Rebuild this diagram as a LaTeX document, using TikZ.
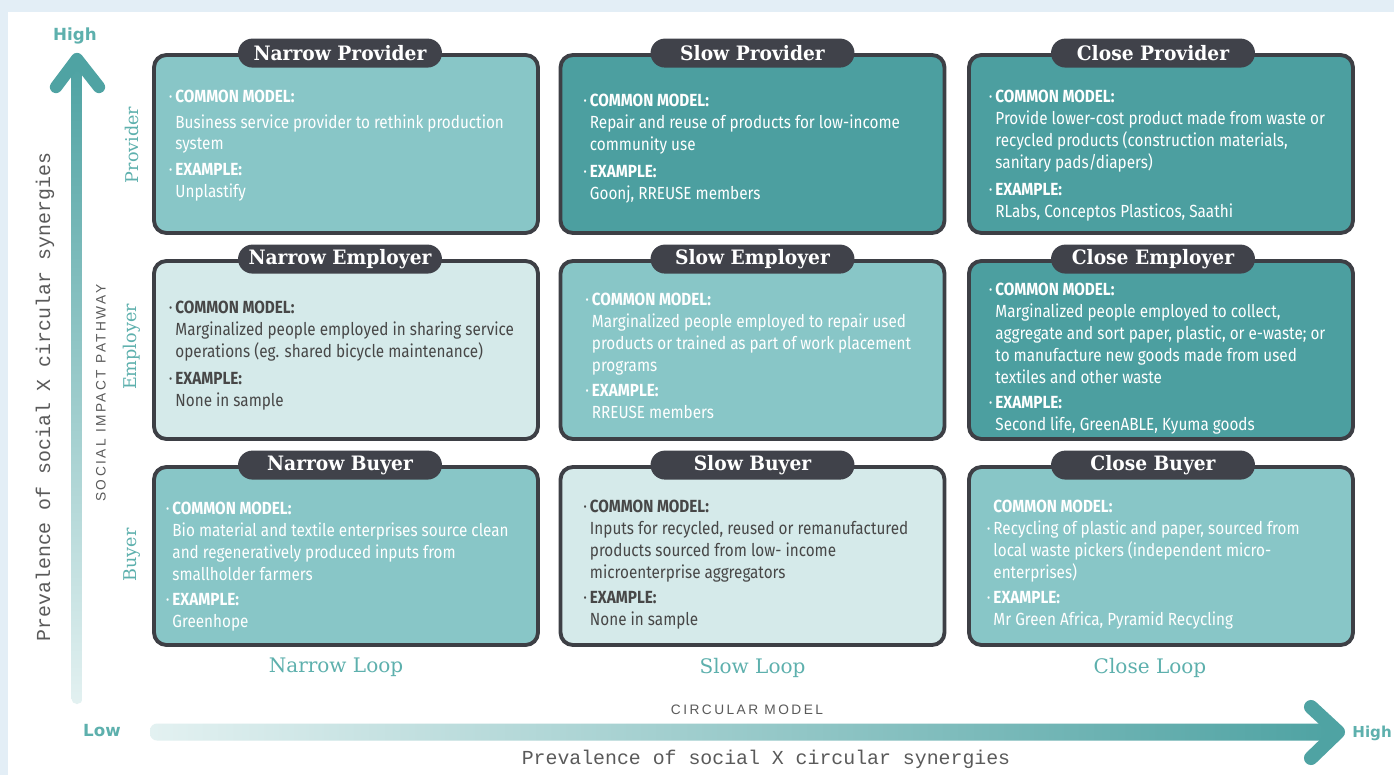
\documentclass[tikz,border=0pt]{standalone}
\usepackage{fontspec}
\setmainfont{DejaVu Serif}
\newfontfamily\slabfont[FakeStretch=0.94]{DejaVu Serif}
\newfontfamily\condfont[FakeStretch=0.87]{Fira Sans}
\newfontfamily\axisfont{Liberation Mono}
\newfontfamily\capsfont[LetterSpace=18]{Liberation Sans}
\newfontfamily\tagfont{DejaVu Sans}
\usetikzlibrary{positioning,calc}

\definecolor{frameblue}{HTML}{E3EEF6}
\definecolor{boxline}{HTML}{3D3F45}
\definecolor{pillfill}{HTML}{40424A}
\definecolor{tealdark}{HTML}{4C9FA0}
\definecolor{teallight}{HTML}{88C6C7}
\definecolor{tealpale}{HTML}{D5EAEA}
\definecolor{inkgray}{HTML}{474747}
\definecolor{loopteal}{HTML}{5DB0AD}
\definecolor{axisteal}{HTML}{4FA3A3}
\definecolor{axispale}{HTML}{E3F1F1}
\definecolor{axisgray}{HTML}{5A5A5A}

\newcommand{\bul}{\llap{\textperiodcentered\,}}
\newcommand{\cellhead}[1]{\bul\textbf{#1}}

\begin{document}
\begin{tikzpicture}[x=0.02cm, y=-0.02cm,
  cellbox/.style={draw=boxline, line width=2.2pt, rounded corners=7pt,
    minimum width=7.68cm, minimum height=3.56cm, inner sep=0pt},
  pill/.style={fill=pillfill, text=white, rounded corners=0.29cm,
    minimum width=4.08cm, minimum height=0.58cm, inner sep=0pt,
    font=\slabfont\bfseries\fontsize{11.3}{13}\selectfont},
  body/.style={align=left, inner sep=0pt, text=white,
    font=\condfont\fontsize{10}{12.4}\selectfont},
  paletext/.style={text=inkgray},
  looplabel/.style={text=loopteal, font=\fontsize{11.4}{13}\selectfont},
  rowlabel/.style={text=loopteal, rotate=90, font=\fontsize{10}{12}\selectfont},
  tag/.style={text=loopteal, font=\tagfont\bfseries\fontsize{9.5}{11}\selectfont},
  axistitle/.style={text=axisgray, font=\axisfont\fontsize{11.3}{13}\selectfont},
  axiscaps/.style={text=axisgray, font=\capsfont\fontsize{7.8}{9}\selectfont}]
\useasboundingbox (0,0) rectangle (1394,775);
\fill[frameblue] (0,0) rectangle (1394,775);
\fill[white] (8,12) rectangle (1394,775);

%%%%%%%%%%%%%%%%%%%%%%%%%%%%%%%%%%%%%%%%
% the nine cells
\node[cellbox, fill=teallight] (np) at (346,144) {};
\node[cellbox, fill=tealdark]  (sp) at (752.5,144) {};
\node[cellbox, fill=tealdark]  (cp) at (1161,144) {};
\node[cellbox, fill=tealpale]  (ne) at (346,350) {};
\node[cellbox, fill=teallight] (se) at (752.5,350) {};
\node[cellbox, fill=tealdark]  (ce) at (1161,350) {};
\node[cellbox, fill=teallight] (nb) at (346,556) {};
\node[cellbox, fill=tealpale]  (sb) at (752.5,556) {};
\node[cellbox, fill=teallight] (cb) at (1161,556) {};

\node[pill, xshift=-0.12cm] (np-t) at (np.north) {Narrow Provider};
\node[pill] (sp-t) at (sp.north) {Slow Provider};
\node[pill, xshift=-0.16cm] (cp-t) at (cp.north) {Close Provider};
\node[pill, xshift=-0.12cm] (ne-t) at (ne.north) {Narrow Employer};
\node[pill] (se-t) at (se.north) {Slow Employer};
\node[pill, xshift=-0.16cm] (ce-t) at (ce.north) {Close Employer};
\node[pill, xshift=-0.12cm] (nb-t) at (nb.north) {Narrow Buyer};
\node[pill] (sb-t) at (sb.north) {Slow Buyer};
\node[pill, xshift=-0.16cm] (cb-t) at (cb.north) {Close Buyer};

\node[body, below right=0.74cm and 0.46cm of np.north west] (np-txt)
  {\cellhead{COMMON MODEL:}\\[2pt]
   Business service provider to rethink production\\
   system\\[2pt]
   \cellhead{EXAMPLE:}\\
   Unplastify};
\node[body, below right=0.82cm and 0.62cm of sp.north west] (sp-txt)
  {\cellhead{COMMON MODEL:}\\
   Repair and reuse of products for low-income\\
   community use\\[3pt]
   \cellhead{EXAMPLE:}\\
   Goonj, RREUSE members};
\node[body, below right=0.74cm and 0.56cm of cp.north west] (cp-txt)
  {\cellhead{COMMON MODEL:}\\
   Provide lower-cost product made from waste or\\
   recycled products (construction materials,\\
   sanitary pads/diapers)\\[3pt]
   \cellhead{EXAMPLE:}\\
   RLabs, Conceptos Plasticos, Saathi};
\node[body, paletext, below right=0.84cm and 0.46cm of ne.north west] (ne-txt)
  {\cellhead{COMMON MODEL:}\\
   Marginalized people employed in sharing service\\
   operations (eg. shared bicycle maintenance)\\[3pt]
   \cellhead{EXAMPLE:}\\
   None in sample};
\node[body, below right=0.68cm and 0.66cm of se.north west] (se-txt)
  {\cellhead{COMMON MODEL:}\\
   Marginalized people employed to repair used\\
   products or trained as part of work placement\\
   programs\\[2pt]
   \cellhead{EXAMPLE:}\\
   RREUSE members};
\node[body, below right=0.48cm and 0.56cm of ce.north west] (ce-txt)
  {\cellhead{COMMON MODEL:}\\
   Marginalized people employed to collect,\\
   aggregate and sort paper, plastic, or e-waste; or\\
   to manufacture new goods made from used\\
   textiles and other waste\\[2pt]
   \cellhead{EXAMPLE:}\\
   Second life, GreenABLE, Kyuma goods};
\node[body, below right=0.74cm and 0.40cm of nb.north west] (nb-txt)
  {\cellhead{COMMON MODEL:}\\
   Bio material and textile enterprises source clean\\
   and regeneratively produced inputs from\\
   smallholder farmers\\[2pt]
   \cellhead{EXAMPLE:}\\
   Greenhope};
\node[body, paletext, below right=0.70cm and 0.62cm of sb.north west] (sb-txt)
  {\cellhead{COMMON MODEL:}\\
   Inputs for recycled, reused or remanufactured\\
   products sourced from low- income\\
   microenterprise aggregators\\[2pt]
   \cellhead{EXAMPLE:}\\
   None in sample};
\node[body, below right=0.70cm and 0.52cm of cb.north west] (cb-txt)
  {\textbf{COMMON MODEL:}\\
   \bul Recycling of plastic and paper, sourced from\\
   local waste pickers (independent micro-\\
   enterprises)\\[2pt]
   \cellhead{EXAMPLE:}\\
   Mr Green Africa, Pyramid Recycling};

\node[looplabel, below=0.1cm of nb, xshift=-0.2cm] (nloop) {Narrow Loop};
\node[looplabel, below=0.1cm of sb] (sloop) {Slow Loop};
\node[looplabel, below=0.1cm of cb, xshift=-0.22cm] (cloop) {Close Loop};

\node[rowlabel] (rprov) at (132,145) {Provider};
\node[rowlabel] (remp)  at (132,347) {Employer};
\node[rowlabel] (rbuy)  at (132,555) {Buyer};

%%%%%%%%%%%%%%%%%%%%%%%%%%%%%%%%%%%%%%%%
% axes
\coordinate (ylow) at (77,704);
\coordinate (yhigh) at (77,59);
\shade[bottom color=axispale, top color=axisteal, rounded corners=3pt]
  ($(ylow)+(-5.5,0)$) rectangle ($(yhigh)+(5.5,8)$);
\draw[axisteal, line width=7pt, line cap=round, line join=round]
  ($(yhigh)+(-21,28)$) -- (yhigh) -- ($(yhigh)+(22,28)$);

\coordinate (xlow) at (150,732);
\coordinate (xhigh) at (1338,732);
\shade[left color=axispale, right color=axisteal, rounded corners=4pt]
  ($(xlow)+(0,-8.5)$) rectangle ($(xhigh)+(-10,8.5)$);
\draw[axisteal, line width=8pt, line cap=round, line join=round]
  ($(xhigh)+(-27,-25)$) -- (xhigh) -- ($(xhigh)+(-27,26)$);

\node[tag] (yhi) at (75,36) {High};
\node[tag] (ylo) at (102,731) {Low};
\node[tag, anchor=east, inner sep=0.5pt, font=\tagfont\bfseries\fontsize{8.6}{10}\selectfont]
  (xhi) at (1393,733) {High};

\node[axistitle, rotate=90] (ytitle) at (45,397) {Prevalence of social X circular synergies};
\node[axiscaps, rotate=90] (ypath) at (101,393) {SOCIAL IMPACT PATHWAY};
\node[axiscaps] (xmodel) at (747,710) {CIRCULAR MODEL};
\node[axistitle] (xtitle) at (766,759) {Prevalence of social X circular synergies};
\end{tikzpicture}
\end{document}
